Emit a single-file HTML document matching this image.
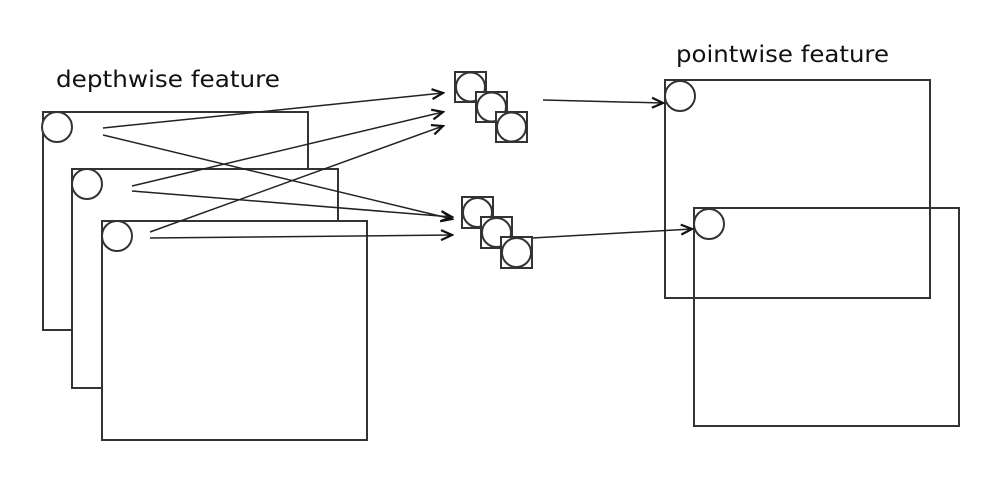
<!DOCTYPE html>
<html><head><style>html,body{margin:0;padding:0;background:#fff;}</style></head>
<body>
<svg width="994" height="479" viewBox="0 0 994 479" xmlns="http://www.w3.org/2000/svg">
<defs>
<marker id="a" markerWidth="14" markerHeight="12" refX="12" refY="6" orient="auto" markerUnits="userSpaceOnUse">
<path d="M1,1 L12,6 L1,11" fill="none" stroke="#111" stroke-width="2.2"/>
</marker>
</defs>
<g fill="#fff" stroke="#333" stroke-width="2">
<rect x="43" y="112" width="265" height="218"/>
<circle cx="57" cy="127" r="15"/>
<rect x="72" y="169" width="266" height="219"/>
<circle cx="87" cy="184" r="15"/>
<rect x="102" y="221" width="265" height="219"/>
<circle cx="117" cy="236" r="15"/>
<rect x="665" y="80" width="265" height="218" fill="none"/>
<rect x="694" y="208" width="265" height="218" fill="none"/>
<circle cx="680" cy="96" r="15"/>
<circle cx="709" cy="224" r="15"/>
</g>
<g stroke="#222" stroke-width="1.5" fill="none" marker-end="url(#a)">
<line x1="103" y1="128" x2="443" y2="93"/>
<line x1="103" y1="135" x2="452" y2="219"/>
<line x1="132" y1="186" x2="443" y2="112"/>
<line x1="132" y1="191" x2="452" y2="217"/>
<line x1="150" y1="232" x2="443" y2="126"/>
<line x1="150" y1="238" x2="452" y2="235"/>
<line x1="543" y1="100" x2="663" y2="103"/>
<line x1="532" y1="238" x2="692" y2="229"/>
</g>
<g fill="#fff" stroke="#333" stroke-width="2">
<rect x="455" y="72" width="31" height="30"/><circle cx="470.5" cy="87" r="14.5"/>
<rect x="476" y="92" width="31" height="30"/><circle cx="491.5" cy="107" r="14.5"/>
<rect x="496" y="112" width="31" height="30"/><circle cx="511.5" cy="127" r="14.5"/>
<rect x="462" y="197" width="31" height="31"/><circle cx="477.5" cy="212.5" r="14.5"/>
<rect x="481" y="217" width="31" height="31"/><circle cx="496.5" cy="232.5" r="14.5"/>
<rect x="501" y="237" width="31" height="31"/><circle cx="516.5" cy="252.5" r="14.5"/>
</g>
<g font-family="DejaVu Sans, Liberation Sans, sans-serif" font-size="23" fill="#111">
<text x="56" y="87" textLength="224" lengthAdjust="spacingAndGlyphs">depthwise feature</text>
<text x="676" y="62" textLength="213" lengthAdjust="spacingAndGlyphs">pointwise feature</text>
</g>
</svg>
</body></html>
